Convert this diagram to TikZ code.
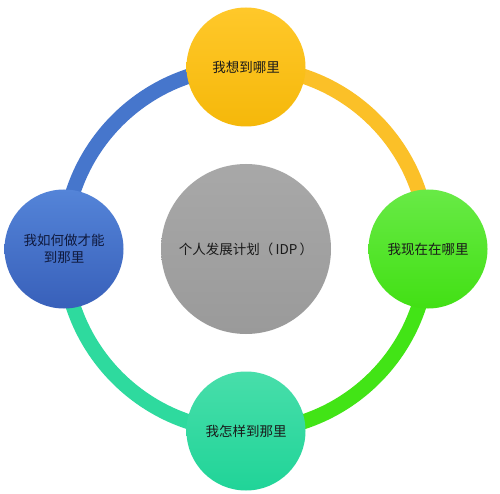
\documentclass[tikz,border=0pt]{standalone}
\usepackage{fontspec}
\setmainfont{Noto Sans CJK SC}
\usetikzlibrary{shadings}
\definecolor{ringY}{RGB}{251,192,40}
\definecolor{ringG}{RGB}{66,228,22}
\definecolor{ringT}{RGB}{46,218,158}
\definecolor{ringB}{RGB}{70,118,204}
\definecolor{txt}{RGB}{25,25,25}
\tikzset{
  ring/.style={line width=15pt},
  sat/.style={circle, minimum size=119pt, inner sep=0pt, shading=axis, shading angle=0,
    font=\fontsize{13.5pt}{16.5pt}\selectfont, text=txt, align=center},
}
\begin{document}
\begin{tikzpicture}[x=1pt,y=1pt]
\useasboundingbox (0,0) rectangle (500,-494);
\fill[white] (0,0) rectangle (500,-494);
\coordinate (c) at (246,-249);
\coordinate (pt) at (246,-67);
\coordinate (pr) at (428,-249);
\coordinate (pb) at (246,-431);
\coordinate (pl) at (64,-249);
% ring
\draw[ring, ringY] (pt) arc[start angle=90, end angle=0, radius=182];
\draw[ring, ringG] (pr) arc[start angle=0, end angle=-90, radius=182];
\draw[ring, ringT] (pb) arc[start angle=-90, end angle=-180, radius=182];
\draw[ring, ringB] (pl) arc[start angle=180, end angle=90, radius=182];
% center
\node[sat, minimum size=170pt, top color={rgb,255:red,168;green,168;blue,168}, bottom color={rgb,255:red,154;green,154;blue,154}] (mid) at (c) {个人发展计划（\,IDP\,）};
% satellites
\node[sat, top color={rgb,255:red,255;green,200;blue,42}, bottom color={rgb,255:red,245;green,184;blue,10}] (top) at (pt) {我想到哪里};
\node[sat, top color={rgb,255:red,104;green,234;blue,70}, bottom color={rgb,255:red,66;green,224;blue,20}] (right) at (pr) {我现在在哪里};
\node[sat, top color={rgb,255:red,72;green,222;blue,170}, bottom color={rgb,255:red,32;green,212;blue,152}] (bottom) at (pb) {我怎样到那里};
\node[sat, text={rgb,255:red,15;green,25;blue,60}, top color={rgb,255:red,84;green,132;blue,216}, bottom color={rgb,255:red,56;green,96;blue,186}] (left) at (pl) {我如何做才能\\到那里};
\end{tikzpicture}
\end{document}
